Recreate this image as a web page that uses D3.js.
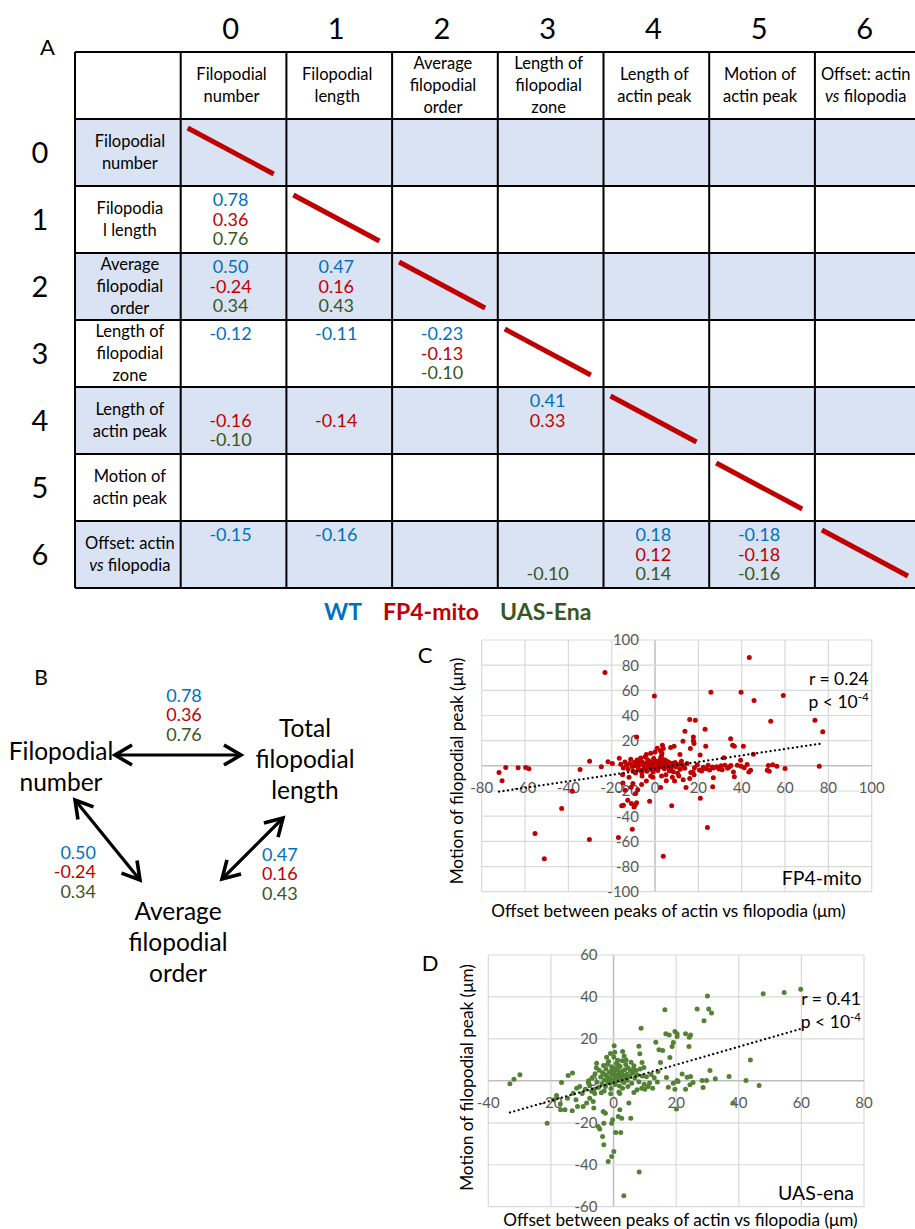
<!DOCTYPE html>
<html><head><meta charset="utf-8">
<script src="https://cdn.jsdelivr.net/npm/d3@7"></script>
<style>
body{margin:0;background:#fff}
svg{display:block}
text{font-family:Lato,"Open Sans",sans-serif}
</style>
</head><body>
<svg id="fig" width="915" height="1229"></svg>
<script>
// ---------------- DATA ----------------
const colIndex = ["0","1","2","3","4","5","6"];
const colHeaders = [["Filopodial","number"],["Filopodial","length"],["Average","filopodial","order"],["Length of","filopodial","zone"],["Length of","actin peak"],["Motion of","actin peak"],["Offset: actin","*vs* filopodia"]];
const rowHeaders = [["Filopodial","number"],["Filopodia","l length"],["Average","filopodial","order"],["Length of","filopodial","zone"],["Length of","actin peak"],["Motion of","actin peak"],["Offset: actin","*vs* filopodia"]];
const genotypes = ["WT","FP4-mito","UAS-Ena"];
const genoColors = ["#0070c0","#c00000","#385723"];
// [row, col, r]
const wtCorr = [[1,0,"0.78"],[2,0,"0.50"],[2,1,"0.47"],[3,0,"-0.12"],[3,1,"-0.11"],[3,2,"-0.23"],[4,3,"0.41"],[6,0,"-0.15"],[6,1,"-0.16"],[6,4,"0.18"],[6,5,"-0.18"]];
const fp4Corr = [[1,0,"0.36"],[2,0,"-0.24"],[2,1,"0.16"],[3,2,"-0.13"],[4,0,"-0.16"],[4,1,"-0.14"],[4,3,"0.33"],[6,4,"0.12"],[6,5,"-0.18"]];
const enaCorr = [[1,0,"0.76"],[2,0,"0.34"],[2,1,"0.43"],[3,2,"-0.10"],[4,0,"-0.10"],[6,3,"-0.10"],[6,4,"0.14"],[6,5,"-0.16"]];

// Panel B
const bNodes = [["Filopodial","number"],["Total","filopodial","length"],["Average","filopodial","order"]];
const bNumLen = ["0.78","0.36","0.76"];
const bNumOrder = ["0.50","-0.24","0.34"];
const bLenOrder = ["0.47","0.16","0.43"];

// Panel C (FP4-mito) : [offset, motion]
const fp4Points = [
[43.5,86.1],[-23.1,74.2],[-0.3,55.6],[25.8,58.5],[39.7,58.5],[45.7,51.9],[59.2,55.9],[53.4,35.5],[73.8,36.3],[77.4,27.0],
[16,36.8],[18.6,36.3],[13.8,27.5],[23.1,29.1],[12.9,19.6],[17.7,23.0],[17.7,19.9],[18,17.7],[34.9,21.5],[35.8,16.4],
[36.6,15.6],[40.8,15.6],[23.4,15.6],[16.3,13.8],[3.4,16.4],[3.8,13.8],[7.2,14.6],[8.8,15.6],[11.5,9.0],[20.8,8.7],
[-8.5,23.0],[45.4,9.3],[39.5,4.5],[31.8,6.4],[75.8,-0.3],[60,-2.1],
[52.3,0.3],[54.3,0.8],[56.2,-0.3],[51.8,-3.4],[52.7,-4.2],[42.5,1],[44.1,-3.4],[43.3,-4.8],[39.7,-0.3],[41.2,-1.6],
[36.2,-4.8],[36.6,-8.7],[34.3,-0.8],[32.3,0.5],[30.5,0],[28.5,-0.8],[27,-1.8],[25.2,-3.2],[24.5,0.5],[22.3,-1.2],
[20.5,-3.2],[19.5,0.8],[18.2,-1.5],[17.5,-4.8],[16.5,-5.3],[21.5,-4],[26.5,-1],[29.5,-2.5],[33.5,-2],[38,0.5],
[35,0.3],[31,-3],[23.5,-2.3],[26.9,-9.5],[26.6,-16.7],[24.2,-49],[20.9,-25.7],[14.3,-17.2],[5.2,-11.9],[2.6,-17.2],
[7.7,-31.8],[-2.5,-28.1],[3.8,-71.8],[-10.5,-50.3],[-16.9,-57],[-30.3,-58.5],[-51.1,-73.9],[-55.4,-53.8],[-43.1,-33.9],[-38.2,-20.1],
[-34.6,-2.9],[-30.2,3.7],[-24.8,-0.8],[-21.7,3.2],[-19.7,1.9],[-72,-5.3],[-70.6,-11.9],[-68.9,-1.3],[-63.2,-1.6],[-59.7,-1.3],[-58.2,-2.4],
[-14.6,-31.3],[-10.9,-29.9],[-9.7,-32.6],[-8.5,-29.4],[-12.6,-27.3],[-14.8,-13.6],[-10.2,-14.1],[-6.2,-14.9],[-13.8,-19.3],[-15.4,-31.7],
[-9.2,-31.2],[-11,-17],[-8,-19],[-4,-12],[-2,-8],[-6,-8],[-12,-9],[-15,-7],[-9,-22],
[2.5,12],[3.2,10],[3,8],[2.6,6.5],[3.5,5],[2,4],
[-15.8,1.2],[-14.6,-1.8],[-13.9,3.1],[-13.1,0.4],[-12.4,-2.7],[-11.8,1.9],[-11.2,5.3],[-10.5,-0.6],[-10.1,-4.2],[-9.4,2.4],
[-9.0,-5.7],[-8.3,4.6],[-7.9,-1.1],[-7.4,0.9],[-6.9,-3.3],[-6.6,6.2],[-6.1,-5.1],[-5.8,2.8],[-5.3,0.2],[-4.9,-2.2],
[-4.6,7.1],[-4.2,1.6],[-3.8,-4.3],[-3.4,4.9],[-3.1,-0.7],[-2.7,1.3],[-2.3,3.4],[-1.9,-2.8],[-1.6,0.3],[-1.2,2.2],
[-0.9,-4.8],[-0.6,5.8],[-0.2,0.6],[0.3,3.9],[0.6,-1.9],[1.0,1.4],[1.3,-3.7],[1.7,2.9],[2.1,1.8],[2.4,-0.9],
[2.8,5.6],[3.2,0.4],[3.5,2.6],[3.9,0.9],[4.3,-2.3],[4.6,4.7],[5.0,1.7],[5.4,-0.8],[5.9,0.2],[6.3,2.9],
[6.6,-3.9],[7.1,1.2],[7.5,-1.7],[8.0,2.1],[8.4,-4.6],[8.9,0.3],[9.3,2.7],[9.8,-0.9],[10.4,-5.8],[10.9,1.1],
[11.6,-2.8],[12.2,3.7],[12.9,0.2],[13.7,-1.9],[14.8,1.8],[-2.5,-0.2],[-1.4,1.0],[0.1,-0.5],[0.9,0.8],[1.9,-0.3],
[3.0,1.5],[4.1,-0.5],[-0.5,2.4],[2.6,3.1],[-3.6,2.0],[5.6,3.4],[-7.2,2.7],[6.9,-0.6],[-9.6,0.1],[0.4,-2.8],
[11,-8],[8,-9],[5,-7],[-1,-9],[3,-8],[16,-10],[18,-7],[13,-11],[9,-12],[-4,9],[-2,10],[0,11],[1,14],[-16.5,6]
];
const fp4Trend = [[-72,-20.5],[77,17.8]];
const fp4Stats = ["r = 0.24","p < 10","-4"];

// Panel D (UAS-ena)
const enaPoints = [
[-33.1,-1.4],[-31.8,0.8],[-29.9,2.9],[-21.2,-20.2],[-18.2,-7],[-16.6,-0.8],[-16.9,-13.8],[-15.5,-13.8],[-14.5,2.5],[-13.1,3.7],
[-13.2,-14.3],[-14.7,-8.3],[-5.4,8.4],[-6.3,-13],[-3.3,-14.6],[-2.6,-15.4],[-3.1,-20.2],[-4.9,-21.8],[-4.4,-23],[-3.5,-26.5],
[-3.1,-30.5],[-1.7,-38.5],[-0.6,-36.1],[0.1,-33.7],[-0.6,-20.2],[-0.3,-18.6],[0.7,-24.6],[2.3,-24.6],[1.5,-17],[2.6,-17.8],
[2.0,-13.8],[4.9,-10.6],[5.5,-17.8],[3.3,-54.8],[8.2,-43.5],[0.2,16.7],[2.9,14],[8.1,16.5],[8.8,25.1],[8.4,12.9],
[9.1,8.7],[9.7,6.4],[13.5,18.4],[14.5,14.8],[15.7,14.5],[15.0,8.7],[16.4,33.9],[16.7,22.4],[17.8,21.8],[18.0,11.1],
[18.7,16.4],[19.1,18.3],[19.6,23.5],[20.3,22.4],[20.3,21.1],[23.0,22.4],[24.2,20.8],[24.6,21.9],[24.1,16.4],[26.7,34.2],
[28.9,28.6],[30.0,40.5],[30.4,34.2],[31.3,32.3],[16.9,1.6],[17.5,-3],[19.1,-1.1],[19.6,-4],[20.3,0.2],[20.6,-0.3],
[20.1,-13.4],[21.9,3.3],[23.0,-4],[23.5,1.7],[24.4,-1.9],[24.6,2.1],[25.4,-0.8],[28.3,0.2],[28.6,-3.2],[29.7,0.2],
[30.8,4.9],[32.5,1],[36.9,2.1],[42.3,0.2],[43.7,10],[46.5,-2.2],[47.8,41.5],[54.5,42.1],[59.8,43.7],[38.2,-10.6],
[-12.9,-5.9],[-11.8,-3.5],[-10.8,-2.7],[-11.5,-12.2],[-9.7,-12.2],[-8.6,-10.6],[-7.6,-8.3],[-6.5,-9.9],[-10,-6],[-9,-4],
[-8,-1],[-7,-5],[-12,-9],[-19,-9],[-17,-11],
[11.1,-2.7],[9,-3.5],[10,-4],[13,1.5],[14,-0.5],[12,3],[10.5,2],[11.5,-1],[12.5,-3.5],[14.2,4.5],[7.5,-4.3],[6.5,-5.5],
[-7.6,-2.3],[-6.8,1.2],[-6.2,-4.1],[-5.9,3.4],[-5.3,-0.6],[-4.8,-3.2],[-4.6,5.1],[-4.1,1.8],[-3.7,-1.4],[-3.5,3.9],
[-3.2,7.3],[-2.9,0.4],[-2.6,-2.7],[-2.4,5.6],[-2.1,2.3],[-1.8,-0.9],[-1.6,9.2],[-1.3,4.1],[-1.1,1.1],[-0.8,-3.6],
[-0.6,6.7],[-0.4,2.9],[-0.2,0.2],[0.1,11.4],[0.3,4.8],[0.5,-1.7],[0.7,2.1],[0.9,8.3],[1.2,5.7],[1.4,0.6],
[1.6,3.3],[1.9,-2.4],[2.1,6.9],[2.3,1.7],[2.6,4.4],[2.8,9.6],[3.1,2.6],[3.3,-0.8],[3.6,5.3],[3.9,7.8],
[4.2,3.1],[4.4,0.3],[4.7,6.1],[5.1,2.2],[5.4,4.7],[5.8,-1.2],[6.1,3.6],[6.5,7.2],[6.8,1.4],[7.2,4.9],
[7.6,2.8],[8.1,-0.4],[8.5,5.6],[9.2,2.3],[9.8,-1.6],[-0.9,-6.2],[1.7,-5.3],[-3.9,-5.7],[0.4,13.6],[-2.2,11.3],
[3.4,11.8],[-1.5,0.9],[0.0,3.5],[1.0,2.5],[2.0,4.0],[-0.5,5.2],[1.5,7.5],[-1.0,-1.2],[0.8,-0.2],[2.5,0.0],
[3.8,1.5],[-2.8,3.0],[0.2,6.0],[1.3,9.8],[-3.0,-4.8],[4.6,-2.7],[5.6,8.9],[6.3,5.5],[-5.5,6.3],[2.9,-3.5],
[-1.9,7.9],[0.6,1.3],[1.8,3.8],[-0.3,3.8],[2.4,2.9],[-8,0],[-6,-6],[2,-6],[-1,13],[4,10]
];
const enaTrend = [[-33.1,-15.1],[60.6,25.1]];
const enaStats = ["r = 0.41","p < 10","-4"];

const xTitle = "Offset between peaks of actin vs filopodia (μm)";
const yTitle = "Motion of filopodial peak (μm)";

// ---------------- DRAW ----------------
const svg = d3.select("#fig");

function multiText(g, lines, cx, cy, lh, size, anchor){
  const n = lines.length;
  lines.forEach((ln,i)=>{
    const t = g.append("text").attr("x",cx).attr("y",cy + (i-(n-1)/2)*lh).attr("dy","0.35em")
      .attr("text-anchor",anchor||"middle").attr("font-size",size).attr("fill","#000");
    const parts = ln.split("*");
    parts.forEach((p,j)=>{ if(p.length) t.append("tspan").attr("font-style", j%2? "italic":"normal").text(p); });
  });
}

// ---- Panel A : table ----
const nCols = 8, nRows = 8;
const xBand = d3.scaleBand().domain(d3.range(nCols)).range([75, 920.6]);
const yBand = d3.scaleBand().domain(d3.range(nRows)).range([52, 588]);
const cw = xBand.bandwidth(), rh = yBand.bandwidth();
const gA = svg.append("g");

d3.range(nRows).forEach(r=>{
  if(r>=1 && (r-1)%2===0){
    gA.append("rect").attr("x",xBand(0)).attr("y",yBand(r)).attr("width",cw*nCols).attr("height",rh).attr("fill","#dae3f3");
  }
});
d3.range(nCols+1).forEach(c=>{
  const x = c<nCols ? xBand(c) : xBand(nCols-1)+cw;
  gA.append("line").attr("x1",x).attr("x2",x).attr("y1",52).attr("y2",588).attr("stroke","#000").attr("stroke-width",2);
});
d3.range(nRows+1).forEach(r=>{
  const y = r<nRows ? yBand(r) : yBand(nRows-1)+rh;
  gA.append("line").attr("x1",75).attr("x2",921).attr("y1",y).attr("y2",y).attr("stroke","#000").attr("stroke-width",2);
});
gA.append("text").attr("x",47.5).attr("y",55).attr("text-anchor","middle").attr("font-size",22).text("A");
colIndex.forEach((c,i)=>{
  const cx = xBand(i+1)+cw/2;
  gA.append("text").attr("x",cx-3).attr("y",39).attr("text-anchor","middle").attr("font-size",29).text(c);
  multiText(gA, colHeaders[i], cx-2, yBand(0)+rh/2, 22, 16.5);
  const cy = yBand(i+1)+rh/2;
  gA.append("text").attr("x",40).attr("y",cy).attr("dy","0.36em").attr("text-anchor","middle").attr("font-size",29).text(c);
  multiText(gA, rowHeaders[i], xBand(0)+cw/2+2, cy, 22, 16.5);
  const x0 = xBand(i+1), y0 = yBand(i+1);
  gA.append("line").attr("x1",x0+7).attr("y1",y0+9).attr("x2",x0+93).attr("y2",y0+55)
    .attr("stroke","#c00000").attr("stroke-width",5);
});
[wtCorr, fp4Corr, enaCorr].forEach((arr,k)=>{
  arr.forEach(([r,c,v])=>{
    gA.append("text").attr("x",xBand(c+1)+cw/2-3).attr("y",yBand(r+1)+rh/2+(k-1)*19.5).attr("dy","0.36em")
      .attr("text-anchor","middle").attr("font-size",18).attr("fill",genoColors[k]).text(v);
  });
});
const legX = [324, 383, 500];
genotypes.forEach((g,k)=>{
  gA.append("text").attr("x",legX[k]).attr("y",620).attr("font-size",23).attr("font-weight","bold")
    .attr("fill",genoColors[k]).text(g);
});

// ---- Panel B ----
const gB = svg.append("g");
gB.append("text").attr("x",41).attr("y",685).attr("text-anchor","middle").attr("font-size",21).text("B");
const nodePos = [[61,773],[305,765],[178,948]];
bNodes.forEach((lines,i)=>{
  multiText(gB, lines, nodePos[i][0], nodePos[i][1]-6, 31, 24.5);
});
function arrow(x1,y1,x2,y2){
  gB.append("line").attr("x1",x1).attr("y1",y1).attr("x2",x2).attr("y2",y2).attr("stroke","#000").attr("stroke-width",3.2);
  const L = Math.hypot(x2-x1,y2-y1), ux=(x2-x1)/L, uy=(y2-y1)/L, hl=17, hw=10;
  [[x2,y2,ux,uy],[x1,y1,-ux,-uy]].forEach(([px,py,dx,dy])=>{
    const p = d3.path();
    p.moveTo(px-hl*dx+hw*(-dy), py-hl*dy+hw*dx);
    p.lineTo(px,py);
    p.lineTo(px-hl*dx-hw*(-dy), py-hl*dy-hw*dx);
    gB.append("path").attr("d",p.toString()).attr("fill","none").attr("stroke","#000").attr("stroke-width",3.6).attr("stroke-linejoin","miter");
  });
}
arrow(115,755,241,755);
arrow(75,800,140,880);
arrow(283,818,222,879);
function numStack(vals, x, cy, anchor){
  vals.forEach((v,k)=>{
    gB.append("text").attr("x",x).attr("y",cy+(k-1)*19.5).attr("dy","0.36em").attr("text-anchor",anchor)
      .attr("font-size",18).attr("fill",genoColors[k]).text(v);
  });
}
numStack(bNumLen, 184, 715, "middle");
numStack(bNumOrder, 96, 872, "end");
numStack(bLenOrder, 262, 874, "start");

// ---- Scatter plots ----
function scatter(o){
  const g = svg.append("g");
  const x = d3.scaleLinear().domain(o.xd).range(o.xr);
  const y = d3.scaleLinear().domain(o.yd).range(o.yr);
  const xt = d3.range(o.xd[0], o.xd[1]+1, 20), yt = d3.range(o.yd[0], o.yd[1]+1, 20);
  g.selectAll(".gx").data(xt).join("line").attr("x1",d=>x(d)).attr("x2",d=>x(d)).attr("y1",o.yr[0]).attr("y2",o.yr[1])
    .attr("stroke",d=>d===0?"#bfbfbf":"#d9d9d9").attr("stroke-width",d=>d===0?1.5:1.2);
  g.selectAll(".gy").data(yt).join("line").attr("y1",d=>y(d)).attr("y2",d=>y(d)).attr("x1",o.xr[0]).attr("x2",o.xr[1])
    .attr("stroke",d=>d===0?"#bfbfbf":"#d9d9d9").attr("stroke-width",d=>d===0?1.5:1.2);
  g.selectAll(".tx").data(xt).join("text").attr("x",d=>x(d)).attr("y",y(0)+27.5).attr("text-anchor","middle")
    .attr("font-size",15).attr("fill","#595959").text(d=>d);
  g.selectAll(".ty").data(yt).join("text").attr("x",x(0)-16).attr("y",d=>y(d)).attr("dy","0.36em").attr("text-anchor","end")
    .attr("font-size",15).attr("fill","#595959").text(d=>d);
  g.selectAll(".pt").data(o.pts).join("circle").attr("cx",d=>x(d[0])).attr("cy",d=>y(d[1])).attr("r",2.5).attr("fill",o.color);
  g.append("line").attr("x1",x(o.trend[0][0])).attr("y1",y(o.trend[0][1])).attr("x2",x(o.trend[1][0])).attr("y2",y(o.trend[1][1]))
    .attr("stroke","#000").attr("stroke-width",2.2).attr("stroke-dasharray","0.1 4.4").attr("stroke-linecap","round");
  g.append("text").attr("x",o.xr[1]-3).attr("y",o.statY).attr("text-anchor","end").attr("font-size",17.5).text(o.stats[0]);
  const p = g.append("text").attr("x",o.xr[1]-3).attr("y",o.statY+23).attr("text-anchor","end").attr("font-size",17.5);
  p.append("tspan").text(o.stats[1]);
  p.append("tspan").attr("font-size",11.5).attr("dy",-7).text(o.stats[2]);
  g.append("text").attr("x",o.xr[1]-10).attr("y",o.yr[0]-7).attr("text-anchor","end").attr("font-size",19.5).text(o.name);
  g.append("text").attr("x",o.letter[0]).attr("y",o.letter[1]).attr("text-anchor","middle").attr("font-size",22).text(o.letter[2]);
  g.append("text").attr("transform",`translate(${o.yl[0]},${o.yl[1]}) rotate(-90)`).attr("text-anchor","middle").attr("font-size",17.2).text(yTitle);
  g.append("text").attr("x",o.xl[0]).attr("y",o.xl[1]).attr("text-anchor","middle").attr("font-size",17.2).text(xTitle);
}
scatter({xd:[-80,100], yd:[-100,100], xr:[481.7,871.7], yr:[891.7,640], pts:fp4Points, trend:fp4Trend, color:"#c00000",
  stats:fp4Stats, statY:685, name:"FP4-mito", letter:[425,663,"C"], yl:[462.5,771], xl:[668.5,917]});
scatter({xd:[-40,80], yd:[-60,60], xr:[488.3,864], yr:[1206.7,955], pts:enaPoints, trend:enaTrend, color:"#548235",
  stats:enaStats, statY:1005, name:"UAS-ena", letter:[430,971,"D"], yl:[472.5,1077.5], xl:[680.5,1226]});
</script>
</body></html>
